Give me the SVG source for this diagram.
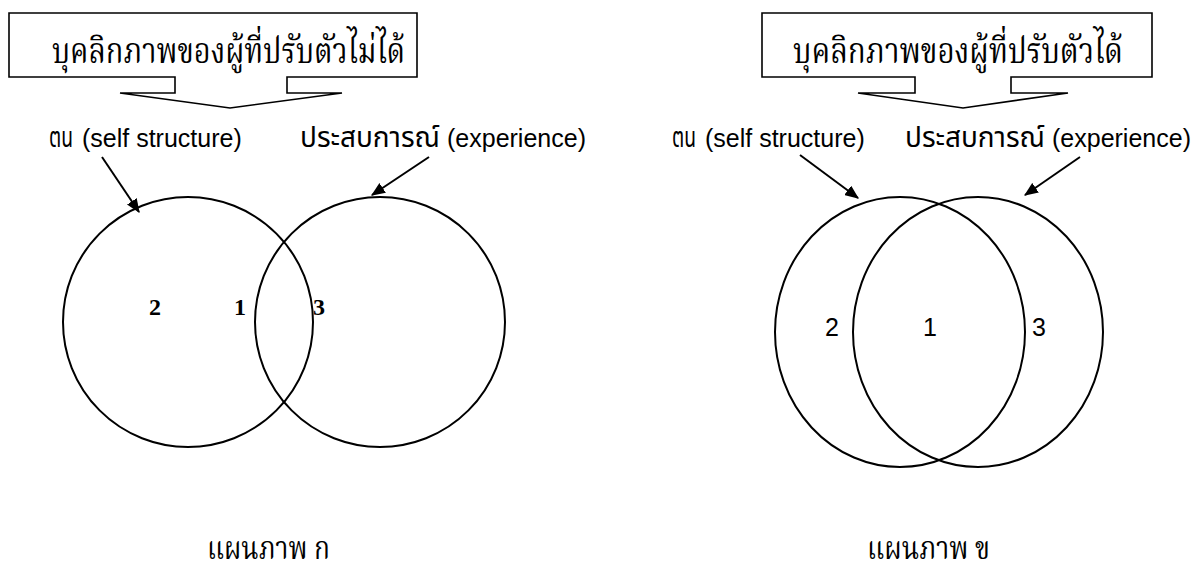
<svg xmlns="http://www.w3.org/2000/svg" width="1193" height="566" viewBox="0 0 1193 566">
<defs>
<marker id="ah" viewBox="0 0 12 10" refX="11" refY="5" markerWidth="7" markerHeight="6" orient="auto" markerUnits="strokeWidth">
<path d="M0,0 L12,5 L0,10 z" fill="#000"/>
</marker>
</defs>
<style>
.box{fill:#fff;stroke:#000;stroke-width:1.6;stroke-linejoin:miter}
.circ{fill:none;stroke:#000;stroke-width:2}
.conn{fill:none;stroke:#000;stroke-width:2;marker-end:url(#ah)}
.th{font-family:"Liberation Serif","Noto Serif Thai","Norasi","Garuda","DejaVu Serif",serif;font-size:35px;fill:#000}
.cap{font-family:"Liberation Serif","Noto Serif Thai","Norasi","Garuda","DejaVu Serif",serif;font-size:32px;fill:#000}
.thl{font-family:"Liberation Sans","Noto Sans Thai","Garuda","Loma","DejaVu Sans",sans-serif;font-size:28px;fill:#000}
.lat{font-family:"Liberation Sans",Arial,sans-serif;font-size:25px;fill:#000}
.nb{font-family:"Liberation Serif",serif;font-weight:bold;font-size:24px;fill:#000}
.nr{font-family:"Liberation Sans",sans-serif;font-size:25px;fill:#000}
</style>
<rect width="1193" height="566" fill="#fff"/>
<g id="callout-left">
<path class="box" d="M9,13 H417 V77 H287 V93 H342 L230,108 L120,93 H175 V77 H9 Z"/>
<text class="th" x="52" y="63" textLength="353" lengthAdjust="spacingAndGlyphs">บุคลิกภาพของผู้ที่ปรับตัวไม่ได้</text>
</g>
<g id="callout-right">
<path class="box" d="M762,13 H1152 V77 H1011 V93 H1068 L963,108 L858,93 H915 V77 H762 Z"/>
<text class="th" x="793" y="63" textLength="330" lengthAdjust="spacingAndGlyphs">บุคลิกภาพของผู้ที่ปรับตัวได้</text>
</g>
<g id="label-self-left">
<text class="thl" x="49" y="147" textLength="24" lengthAdjust="spacingAndGlyphs">ตน</text>
<text class="lat" x="82" y="147">(self structure)</text>
</g>
<g id="label-exp-left">
<text class="thl" x="300" y="147" textLength="140" lengthAdjust="spacingAndGlyphs">ประสบการณ์</text>
<text class="lat" x="447" y="147">(experience)</text>
</g>
<g id="label-self-right">
<text class="thl" x="672" y="147" textLength="24" lengthAdjust="spacingAndGlyphs">ตน</text>
<text class="lat" x="705" y="147">(self structure)</text>
</g>
<g id="label-exp-right">
<text class="thl" x="905" y="147" textLength="140" lengthAdjust="spacingAndGlyphs">ประสบการณ์</text>
<text class="lat" x="1052" y="147">(experience)</text>
</g>
<g id="venn-left">
<circle id="self-left" class="circ" cx="188" cy="322" r="125"/>
<circle id="exp-left" class="circ" cx="380" cy="322" r="125"/>
<text class="nb" x="149" y="315">2</text>
<text class="nb" x="234" y="315">1</text>
<text class="nb" x="313" y="315">3</text>
</g>
<g id="venn-right">
<ellipse id="self-right" class="circ" cx="900" cy="332" rx="125" ry="135"/>
<ellipse id="exp-right" class="circ" cx="978" cy="332" rx="125" ry="135"/>
<text class="nr" x="825" y="336">2</text>
<text class="nr" x="923" y="336">1</text>
<text class="nr" x="1032" y="336">3</text>
</g>
<g id="connectors">
<line class="conn" x1="102" y1="157" x2="139" y2="212"/>
<line class="conn" x1="429" y1="157" x2="372" y2="195"/>
<line class="conn" x1="800" y1="155" x2="858" y2="198"/>
<line class="conn" x1="1080" y1="157" x2="1025" y2="195"/>
</g>
<g id="captions">
<text class="cap" x="207" y="559" textLength="123" lengthAdjust="spacingAndGlyphs">แผนภาพ ก</text>
<text class="cap" x="867" y="559" textLength="123" lengthAdjust="spacingAndGlyphs">แผนภาพ ข</text>
</g>
</svg>
